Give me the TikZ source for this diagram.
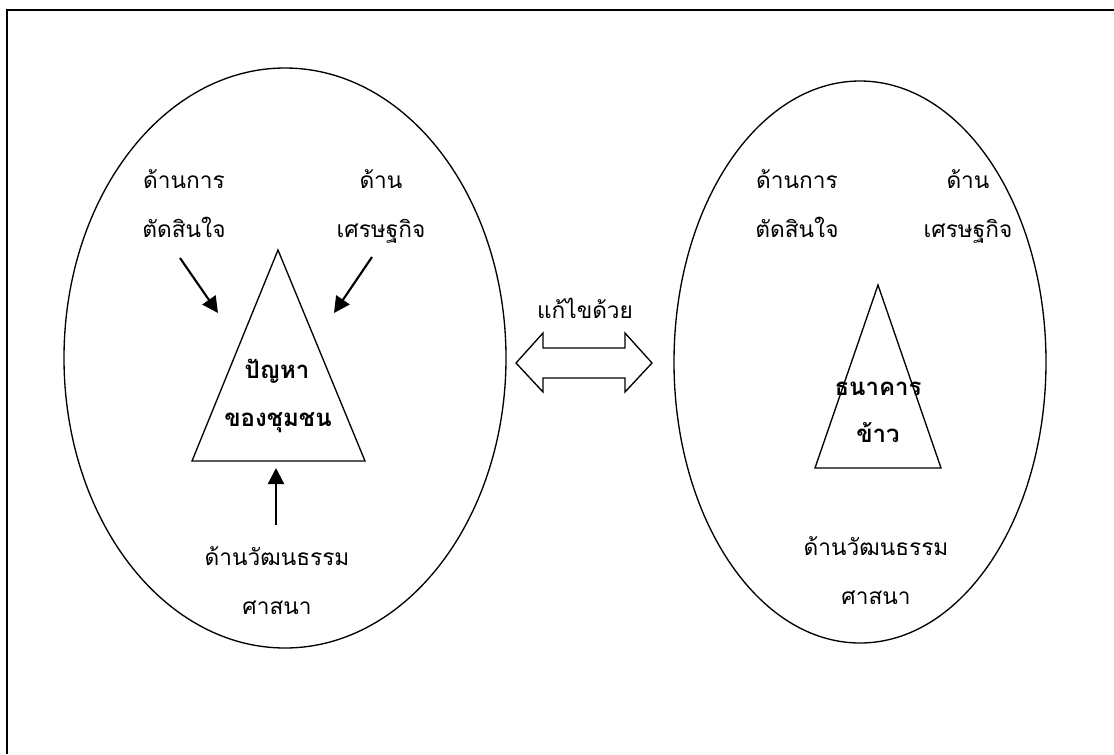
\documentclass[tikz,border=0pt]{standalone}
\usepackage{fontspec}
\setmainfont[Script=Thai]{Loma}
\usetikzlibrary{arrows.meta}
\tikzset{
  lbl/.style={anchor=base,font=\fontsize{17}{20}\selectfont},
  blbl/.style={anchor=base,font=\fontsize{18}{21}\selectfont\bfseries},
  arr/.style={line width=1.6pt,-{Triangle[length=12pt,width=12pt]}}
}
\begin{document}
\begin{tikzpicture}[x=0.75pt,y=-0.75pt]
\useasboundingbox (0,0) rectangle (1114,754);
\draw[line width=1.5pt] (7,754) -- (7,10) -- (1114,10);
\draw[line width=1pt] (285,358) ellipse (221 and 290);
\draw[line width=1pt] (860,362) ellipse (186 and 281);
\draw[line width=1pt] (278,250) -- (365,461) -- (192,461) -- cycle;
\draw[line width=1pt] (878,285) -- (941,468) -- (815,468) -- cycle;
\draw[line width=1pt] (516,363) -- (543,333) -- (543,348) -- (625,348) -- (625,333) -- (652,363)
  -- (625,392) -- (625,378) -- (543,378) -- (543,392) -- cycle;
\node[lbl] (decL1) at (184,188) {ด้านการ};
\node[lbl] (decL2) at (184,237) {ตัดสินใจ};
\node[lbl] (ecoL1) at (381,188) {ด้าน};
\node[lbl] (ecoL2) at (381,237) {เศรษฐกิจ};
\node[lbl] (culL1) at (277,565) {ด้านวัฒนธรรม};
\node[lbl] (culL2) at (277,614) {ศาสนา};
\node[blbl] (probA) at (277,378) {ปัญหา};
\node[blbl] (probB) at (278,426) {ของชุมชน};
\node[lbl] (fix) at (585,318) {แก้ไขด้วย};
\node[lbl] (decR1) at (797,188) {ด้านการ};
\node[lbl] (decR2) at (797,237) {ตัดสินใจ};
\node[lbl] (ecoR1) at (968,188) {ด้าน};
\node[lbl] (ecoR2) at (968,237) {เศรษฐกิจ};
\node[lbl] (culR1) at (876,555) {ด้านวัฒนธรรม};
\node[lbl] (culR2) at (876,604) {ศาสนา};
\node[blbl] (bankA) at (878,395) {ธนาคาร};
\node[blbl] (bankB) at (878,442) {ข้าว};
\coordinate (decS) at (180,258);
\coordinate (decT) at (218,313);
\coordinate (ecoS) at (372,257);
\coordinate (ecoT) at (334,313);
\coordinate (culS) at (276,525);
\coordinate (culT) at (276,468);
\draw[arr] (decS) -- (decT);
\draw[arr] (ecoS) -- (ecoT);
\draw[arr] (culS) -- (culT);
\end{tikzpicture}
\end{document}
